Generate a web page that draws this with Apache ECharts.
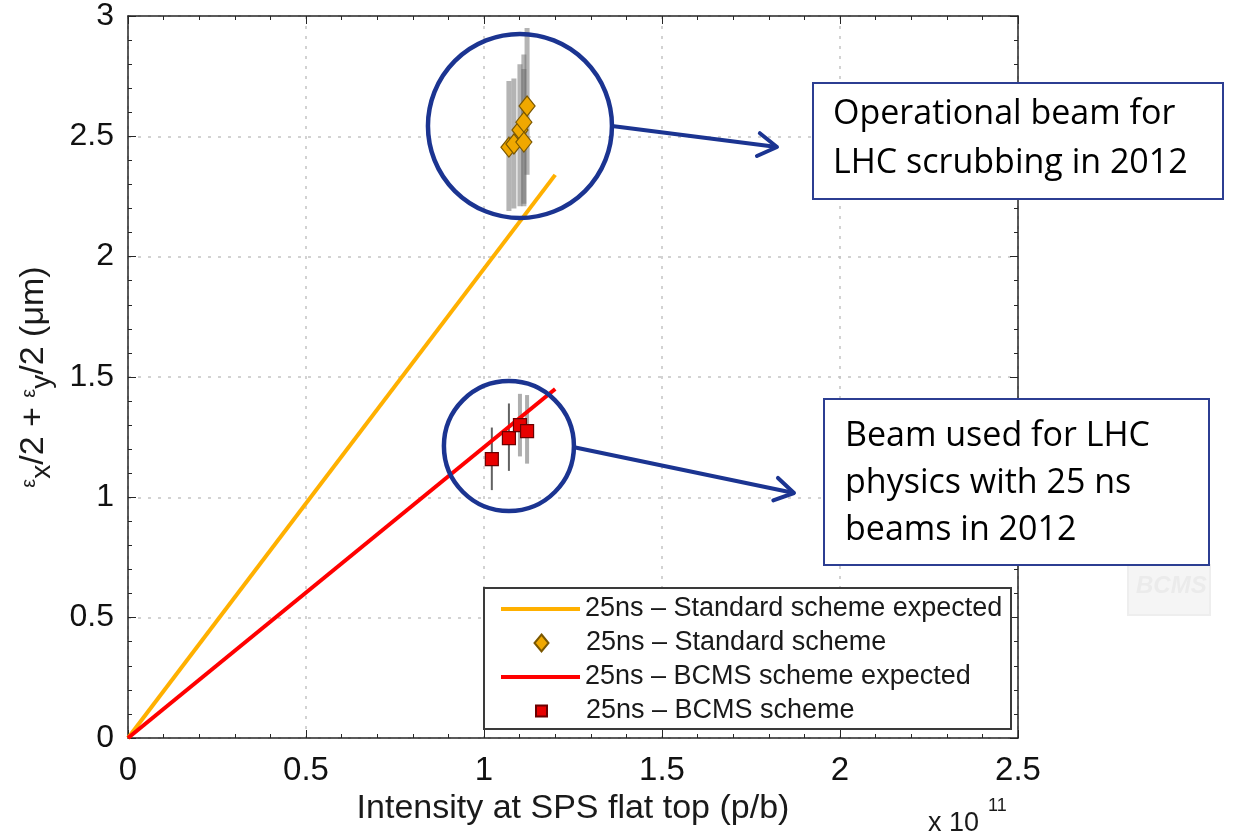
<!DOCTYPE html>
<html>
<head>
<meta charset="utf-8">
<script src="https://cdn.jsdelivr.net/npm/echarts@6/dist/echarts.min.js"></script>
<style>
  html, body { margin: 0; padding: 0; background: #ffffff; }
  #chart { width: 1233px; height: 836px; }
</style>
</head>
<body>
<div id="chart"></div>
<script>
// Expected emittance vs. intensity (intensity in units of 1e11 p/b, emittance in µm)
const standardExpected = [[0, 0], [1.2, 2.34]];
const bcmsExpected = [[0, 0], [1.2, 1.45]];

// Measured points [intensity, emittance] and their error bar extents
const standardMeasured = [[1.070, 2.455], [1.084, 2.468], [1.101, 2.526], [1.112, 2.559], [1.112, 2.476], [1.121, 2.626]];
const standardErrLow  = [2.19, 2.20, 2.21, 2.21, 2.22, 2.34];
const standardErrHigh = [2.73, 2.74, 2.80, 2.84, 2.78, 2.95];

const bcmsMeasured = [[1.022, 1.159], [1.070, 1.246], [1.101, 1.300], [1.121, 1.275]];
const bcmsErrLow  = [1.03, 1.11, 1.17, 1.14];
const bcmsErrHigh = [1.29, 1.39, 1.43, 1.425];

const xTickLabels = ['0', '0.5', '1', '1.5', '2', '2.5'];
const yTickLabels = ['0', '0.5', '1', '1.5', '2', '2.5', '3'];

const seriesNames = [
  '25ns \u2013 Standard scheme expected',
  '25ns \u2013 Standard scheme',
  '25ns \u2013 BCMS scheme expected',
  '25ns \u2013 BCMS scheme'
];

const noteScrubbing = ['Operational beam for', 'LHC scrubbing in 2012'];
const notePhysics = ['Beam used for LHC', 'physics with 25 ns', 'beams in 2012'];

const FONT = '"Liberation Sans", Arial, Helvetica, sans-serif';
const NOTE_FONT = '"Open Sans", Lato, sans-serif';
const NAVY = '#1b3491';
const AXIS = '#262626';

const chart = echarts.init(document.getElementById('chart'), null, { renderer: 'canvas' });

function errorBars(points, lo, hi, styleFor) {
  return {
    type: 'custom',
    silent: true,
    z: 1,
    data: points.map((p, i) => [p[0], lo[i], hi[i]]),
    encode: { x: 0, y: [1, 2] },
    renderItem: (params, api) => {
      const a = api.coord([api.value(0), api.value(1)]);
      const b = api.coord([api.value(0), api.value(2)]);
      return {
        type: 'line',
        shape: { x1: a[0], y1: a[1], x2: b[0], y2: b[1] },
        style: styleFor(params.dataIndex)
      };
    }
  };
}

const frameAxis = {
  min: 0,
  axisLine: { show: true, onZero: false, lineStyle: { color: AXIS, width: 1.5 } },
  axisTick: { show: true, inside: true, length: 8, lineStyle: { color: AXIS, width: 1 } },
  minorTick: { show: true, splitNumber: 5, length: 4, lineStyle: { color: AXIS, width: 1 } },
  axisLabel: { show: false },
  splitLine: { show: false }
};

// One legend block per row; the icon is centred in a 79px slot and the text starts at x=585
const ICON_SLOT_LEFT = 501, ICON_SLOT_W = 79, TEXT_LEFT = 585;
function legendFor(name, icon, centerY, iconW, iconH) {
  const left = ICON_SLOT_LEFT + (ICON_SLOT_W - iconW) / 2;
  const pad = TEXT_LEFT - (left + iconW + 5);
  return {
    data: [{ name: name, icon: icon }],
    left: left,
    top: centerY - 16,
    orient: 'vertical',
    padding: 0,
    itemWidth: iconW,
    itemHeight: iconH,
    itemGap: 0,
    symbolKeepAspect: false,
    selectedMode: false,
    textStyle: { fontFamily: FONT, fontSize: 27, color: '#1a1a1a', lineHeight: 32, padding: [0, 0, 0, pad] }
  };
}

chart.setOption({
  animation: false,
  backgroundColor: '#ffffff',
  grid: { left: 128, right: 215, top: 16, bottom: 98, containLabel: false },
  xAxis: [
    Object.assign({}, frameAxis, {
      type: 'value', position: 'bottom', max: 2.5, interval: 0.5,
      axisLabel: {
        show: true, margin: 16, fontFamily: FONT, fontSize: 33, color: '#111',
        formatter: v => xTickLabels[Math.round(v / 0.5)]
      },
      splitLine: { show: true, lineStyle: { color: '#c4c4c4', width: 1.5, type: [3, 7] } },
      name: 'Intensity at SPS flat top (p/b)',
      nameLocation: 'middle',
      nameGap: 50,
      nameTextStyle: { fontFamily: FONT, fontSize: 34, color: '#1a1a1a' }
    }),
    Object.assign({}, frameAxis, { type: 'value', position: 'top', max: 2.5, interval: 0.5 })
  ],
  yAxis: [
    Object.assign({}, frameAxis, {
      type: 'value', position: 'left', max: 3, interval: 0.5,
      axisLabel: {
        show: true, margin: 14, fontFamily: FONT, fontSize: 32, color: '#111',
        formatter: v => yTickLabels[Math.round(v / 0.5)]
      },
      splitLine: { show: true, lineStyle: { color: '#c4c4c4', width: 1.5, type: [3, 7] } },
      name: '{e|\u03b5}{s|x}{b|/2 + }{e|\u03b5}{s|y}{b|/2 (\u03bcm)}',
      nameLocation: 'middle',
      nameRotate: 90,
      nameGap: 72,
      nameTextStyle: {
        fontFamily: FONT, color: '#1a1a1a',
        rich: {
          b: { fontFamily: FONT, fontSize: 34, color: '#1a1a1a', lineHeight: 44, verticalAlign: 'middle' },
          e: { fontFamily: FONT, fontSize: 20, color: '#1a1a1a', lineHeight: 44, verticalAlign: 'middle', padding: [0, 0, 10, 0] },
          s: { fontFamily: FONT, fontSize: 28, color: '#1a1a1a', lineHeight: 44, verticalAlign: 'bottom' }
        }
      }
    }),
    Object.assign({}, frameAxis, { type: 'value', position: 'right', max: 3, interval: 0.5 })
  ],
  legend: [
    legendFor(seriesNames[0], 'rect', 609, 79, 4),
    legendFor(seriesNames[1], 'diamond', 643, 14, 17),
    legendFor(seriesNames[2], 'rect', 677, 79, 4),
    legendFor(seriesNames[3], 'rect', 711, 11, 11)
  ],
  series: [
    {
      name: seriesNames[0], type: 'line', data: standardExpected,
      symbol: 'none', showSymbol: false, z: 2,
      lineStyle: { color: '#ffb000', width: 4 }, itemStyle: { color: '#ffb000' }
    },
    errorBars(standardMeasured, standardErrLow, standardErrHigh, () => ({
      stroke: 'rgba(105,105,105,0.5)', lineWidth: 5
    })),
    {
      name: seriesNames[1], type: 'scatter', data: standardMeasured, z: 3,
      symbol: 'diamond', symbolSize: [16, 20],
      itemStyle: { color: '#f0a800', borderColor: '#7a5700', borderWidth: 1.2, opacity: 1 }
    },
    {
      name: seriesNames[2], type: 'line', data: bcmsExpected,
      symbol: 'none', showSymbol: false, z: 2,
      lineStyle: { color: '#ff0000', width: 4 }, itemStyle: { color: '#ff0000' }
    },
    errorBars(bcmsMeasured, bcmsErrLow, bcmsErrHigh, i => (
      i < 2 ? { stroke: 'rgba(70,70,70,0.85)', lineWidth: 2 }
            : { stroke: 'rgba(120,120,120,0.6)', lineWidth: 4 }
    )),
    {
      name: seriesNames[3], type: 'scatter', data: bcmsMeasured, z: 3,
      symbol: 'rect', symbolSize: 13,
      itemStyle: { color: '#e80000', borderColor: '#6a0000', borderWidth: 1.2, opacity: 1 }
    }
  ]
});

// Annotation layer: legend frame, highlight circles, arrows, callout boxes, exponent label
function arrowHead(tip, from, size) {
  const ang = Math.atan2(tip[1] - from[1], tip[0] - from[0]);
  const spread = 0.55;
  return [
    [tip[0] - size * Math.cos(ang - spread), tip[1] - size * Math.sin(ang - spread)],
    tip,
    [tip[0] - size * Math.cos(ang + spread), tip[1] - size * Math.sin(ang + spread)]
  ];
}

const c1 = chart.convertToPixel({ xAxisIndex: 0, yAxisIndex: 0 }, [1.101, 2.543]);
const c2 = chart.convertToPixel({ xAxisIndex: 0, yAxisIndex: 0 }, [1.070, 1.213]);
const r1 = 92, r2 = 65;
const a1s = [c1[0] + r1, c1[1]], a1e = [777, 147];
const a2s = [c2[0] + r2 - 1, c2[1] + 1], a2e = [794, 493];

const lineText = (lines, x, y0, gap) => lines.map((t, i) => ({
  type: 'text', z: 11, left: x, top: y0 + i * gap,
  style: { text: t, font: '34px ' + NOTE_FONT, fill: '#000000' }
}));

chart.setOption({
  graphic: [
    // legend frame
    { type: 'rect', z: 3, shape: { x: 484, y: 588, width: 527, height: 141 },
      style: { fill: '#ffffff', stroke: '#3a3a3a', lineWidth: 2 } },
    // faint logo remnant
    { type: 'rect', z: 1, shape: { x: 1128, y: 565, width: 82, height: 50 },
      style: { fill: '#f5f5f5', stroke: '#eeeeee', lineWidth: 2 } },
    { type: 'text', z: 1, left: 1136, top: 574,
      style: { text: 'BCMS', font: 'italic bold 24px ' + FONT, fill: '#ebebeb' } },
    // highlight circles
    { type: 'circle', z: 10, shape: { cx: c1[0], cy: c1[1], r: r1 },
      style: { fill: 'none', stroke: NAVY, lineWidth: 4.5 } },
    { type: 'circle', z: 10, shape: { cx: c2[0], cy: c2[1], r: r2 },
      style: { fill: 'none', stroke: NAVY, lineWidth: 4.5 } },
    // arrows
    { type: 'polyline', z: 10, shape: { points: [a1s, a1e] }, style: { stroke: NAVY, lineWidth: 4, fill: 'none' } },
    { type: 'polyline', z: 10, shape: { points: arrowHead(a1e, a1s, 22) },
      style: { stroke: NAVY, lineWidth: 4, fill: 'none', lineCap: 'round', lineJoin: 'round' } },
    { type: 'polyline', z: 10, shape: { points: [a2s, a2e] }, style: { stroke: NAVY, lineWidth: 4, fill: 'none' } },
    { type: 'polyline', z: 10, shape: { points: arrowHead(a2e, a2s, 22) },
      style: { stroke: NAVY, lineWidth: 4, fill: 'none', lineCap: 'round', lineJoin: 'round' } },
    // callout boxes
    { type: 'rect', z: 10, shape: { x: 813, y: 83, width: 410, height: 116 },
      style: { fill: '#ffffff', stroke: '#2c3e92', lineWidth: 2 } },
    ...lineText(noteScrubbing, 833, 97, 49),
    { type: 'rect', z: 10, shape: { x: 824, y: 399, width: 385, height: 166 },
      style: { fill: '#ffffff', stroke: '#2c3e92', lineWidth: 2 } },
    ...lineText(notePhysics, 845, 419, 47),
    // axis multiplier
    { type: 'text', z: 11, left: 928, top: 810,
      style: { text: 'x 10', font: '27px ' + FONT, fill: '#1a1a1a' } },
    { type: 'text', z: 11, left: 988, top: 797,
      style: { text: '11', font: '18px ' + FONT, fill: '#1a1a1a' } }
  ]
});
</script>
</body>
</html>
